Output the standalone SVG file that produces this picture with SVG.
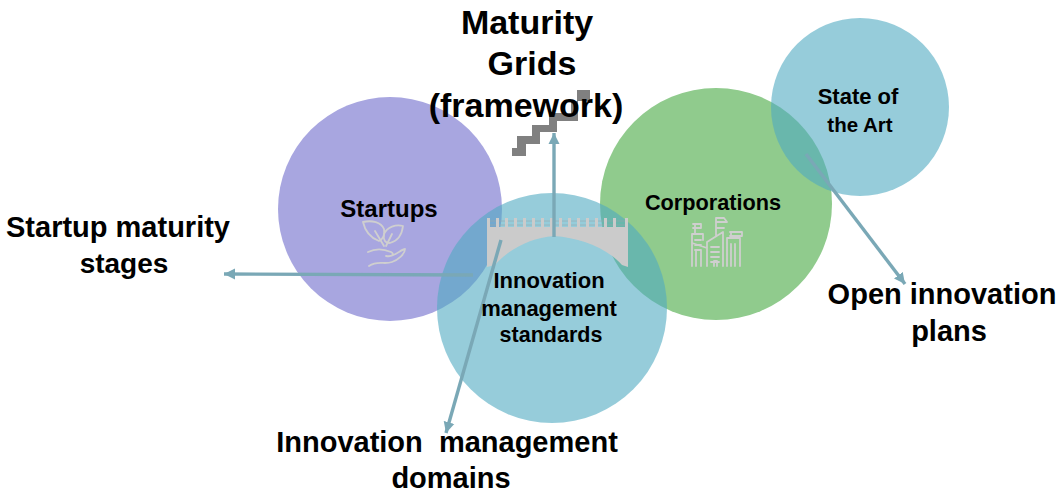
<svg xmlns="http://www.w3.org/2000/svg" width="1058" height="492" viewBox="0 0 1058 492">
<style>
text{font-family:"Liberation Sans",Arial,sans-serif;font-weight:bold;fill:#000;text-anchor:middle}
.big{font-size:29px}.mid{font-size:34px}.sm{font-size:22px}
.ic{fill:none;stroke:#cfcfcf;stroke-width:1.8;stroke-linejoin:round;stroke-linecap:round}
.cn{stroke:#7aa8b6;stroke-width:3.4;fill:none;marker-end:url(#ah)}
.te{fill:#50aac1;fill-opacity:.6}
</style>
<defs><marker id="ah" markerUnits="userSpaceOnUse" markerWidth="12" markerHeight="12" refX="11" refY="6" orient="auto"><path d="M0,0.5L11,6L0,11.5Z" fill="#7aa8b6"/></marker></defs>
<rect width="1058" height="492" fill="#fff"/>
<g id="startups"><circle cx="390" cy="209" r="112" fill="#a8a6e0"/></g>
<g id="corporations"><circle cx="716" cy="204" r="116" fill="#90cb8d"/></g>
<g id="standards"><circle class="te" cx="552" cy="308" r="115"/></g>
<g id="state"><circle class="te" cx="860" cy="107" r="89"/></g>
<g id="bridge">
<path d="M487,227H628V267L622,265C607,248 581,238 554,236C530,238 509,249 495,265L487,267Z" fill="#cbcbcb"/>
<path d="M489,221H627M489,225H627" stroke="#9aa8ac" stroke-opacity=".6" stroke-width="1" fill="none"/>
<path d="M487,218h3v9h-3zM496,218h3v9h-3zM505,218h3v9h-3zM514,218h3v9h-3zM523,218h3v9h-3zM532,218h3v9h-3zM541,218h3v9h-3zM550,218h3v9h-3zM559,218h3v9h-3zM568,218h3v9h-3zM577,218h3v9h-3zM586,218h3v9h-3zM595,218h3v9h-3zM604,218h3v9h-3zM613,218h3v9h-3zM625,218h3v9h-3z" fill="#cbcbcb"/>
</g>
<g id="stairs"><path d="M512,148H517V136H532V125H549V113H571V101H577V90H590V101H578V121H557V132H540V144H526V156H512Z" fill="#808080"/></g>
<g id="connectors">
<path class="cn" d="M473,275L224,274"/>
<path class="cn" d="M554,237V133"/>
<path class="cn" d="M501,240L446,433"/>
<path class="cn" d="M806,154L905,284"/>
</g>
<g id="plant-icon" class="ic">
<path d="M363,222C372,220 381,222 384,229C385,235 383,239 379,241C371,238 365,231 363,222Z"/>
<path d="M403,226C396,224 387,227 384,234C383,240 385,243 390,243C398,241 402,234 403,226Z"/>
<path d="M375,231L384,246M392,234L386,246"/>
<path d="M368,252C376,248 384,249 391,252C395,254 392,257 386,256M369,266C378,260 384,265 392,262C398,260 405,254 405,249C402,249 396,255 390,256"/>
</g>
<g id="city-icon" class="ic">
<path d="M692,266V234H703V240M695,234V224H700M693,224h8v4h-8M695,240h6M695,245h6M695,250h6M692,243L707,248V266M696,250V266M701,250V266M707,266V242L723,232V266M711,247h8M711,252h8M711,257h8M711,262h8M716,236V218M716,218h8l3,4h-11M716,228h8M727,266V238H740V266M731,238V232h4M730,232h12v4h-12M731,244V266M735,244V266M714,266V261h3v5"/>
</g>
<g id="labels">
<text class="mid" x="527" y="34">Maturity</text>
<text class="mid" x="532" y="75">Grids</text>
<text class="mid" x="526" y="117">(framework)</text>
<text class="big" x="118" y="237">Startup maturity</text>
<text class="big" x="124" y="273" style="font-size:28px">stages</text>
<text class="big" x="942" y="304">Open innovation</text>
<text class="big" x="949" y="341">plans</text>
<text class="big" x="447" y="452" xml:space="preserve">Innovation  management</text>
<text class="big" x="451" y="488">domains</text>
<text class="sm" x="389" y="217" style="font-size:24px">Startups</text>
<text class="sm" x="713" y="210" style="font-size:21.7px">Corporations</text>
<text class="sm" x="858" y="104">State of</text>
<text class="sm" x="860" y="132" style="font-size:20.5px">the Art</text>
<text class="sm" x="549" y="288">Innovation</text>
<text class="sm" x="549" y="316">management</text>
<text class="sm" x="551" y="342" style="font-size:21.5px">standards</text>
</g>
</svg>
